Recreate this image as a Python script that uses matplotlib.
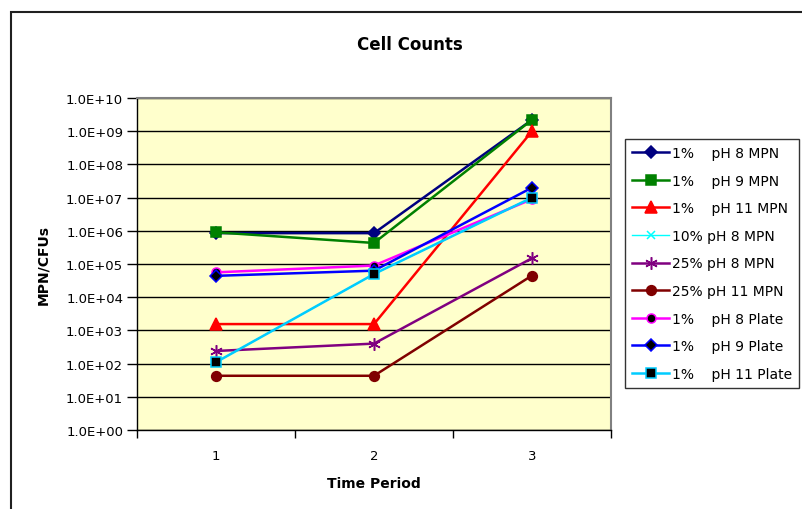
import math
import matplotlib
matplotlib.use('Agg')
import matplotlib.pyplot as plt
from matplotlib.patches import Rectangle
from matplotlib.ticker import FixedLocator, FuncFormatter

periods = [1, 2, 3]

labels = ['1%    pH 8 MPN', '1%    pH 9 MPN', '1%    pH 11 MPN', '10% pH 8 MPN',
          '25% pH 8 MPN', '25% pH 11 MPN', '1%    pH 8 Plate', '1%    pH 9 Plate',
          '1%    pH 11 Plate']

ph8_mpn = [8.5e5, 8.5e5, 2.2e9]
ph9_mpn = [9.0e5, 4.3e5, 2.2e9]
ph11_mpn = [1.55e3, 1.55e3, 1.0e9]
ph8_10_mpn = [1.1e2, 5.0e4, 1.0e7]
ph8_25_mpn = [2.4e2, 4.0e2, 1.5e5]
ph11_25_mpn = [43, 43, 4.5e4]
ph8_plate = [5.6e4, 9.0e4, 9.0e6]
ph9_plate = [4.4e4, 6.3e4, 2.0e7]
ph11_plate = [1.1e2, 5.0e4, 1.0e7]

series = [ph8_mpn, ph9_mpn, ph11_mpn, ph8_10_mpn, ph8_25_mpn, ph11_25_mpn,
          ph8_plate, ph9_plate, ph11_plate]

# line colour, marker, marker face, marker edge, marker size
styles = [
    ('#000080', 'D', '#000080', '#000080', 6),
    ('#008000', 's', '#008000', '#008000', 7),
    ('#FF0000', '^', '#FF0000', '#FF0000', 8),
    ('#00FFFF', 'x', '#00FFFF', '#00FFFF', 5.5),
    ('#800080', (6, 2, 0), '#800080', '#800080', 9),
    ('#800000', 'o', '#800000', '#800000', 7),
    ('#FF00FF', 'o', 'black', '#FF00FF', 6.5),
    ('#0000FF', 'D', 'black', '#0000FF', 6),
    ('#00CCFF', 's', 'black', '#00CCFF', 6.5),
]

fig = plt.figure(figsize=(8.03, 5.10), dpi=100)
ax = fig.add_axes([137/803, 1 - 431/510, 474/803, 332/510])
ax.set_facecolor('#FFFFCC')

handles = []
for vals, lab, (c, m, fc, ec, ms) in zip(series, labels, styles):
    lw = 1.0 if m == 'x' else 1.8
    h, = ax.plot(periods, vals, color=c, lw=lw, marker=m, markersize=ms,
                 markerfacecolor=fc, markeredgecolor=ec, markeredgewidth=1.1,
                 label=lab, clip_on=False)
    handles.append(h)

ax.set_yscale('log')
ax.set_ylim(1, 1e10)
ax.set_xlim(0.5, 3.5)
ax.yaxis.set_major_locator(FixedLocator([10.0**k for k in range(11)]))
ax.yaxis.set_minor_locator(FixedLocator([]))
ax.yaxis.set_major_formatter(FuncFormatter(lambda v, p: '1.0E+%02d' % round(math.log10(v))))
ax.grid(axis='y', color='black', lw=1.0)
ax.set_axisbelow(True)

ax.set_xticks(periods)
ax.set_xticks([0.5, 1.5, 2.5, 3.5], minor=True)
ax.tick_params(axis='x', which='major', length=0, pad=14, labelsize=9.5)
ax.tick_params(axis='x', which='minor', length=6, width=1, direction='out')
ax.tick_params(axis='y', which='major', length=7, width=1, direction='out', labelsize=9.5, pad=3)

for s in ['left', 'bottom']:
    ax.spines[s].set_color('black')
    ax.spines[s].set_linewidth(1.0)
for s in ['top', 'right']:
    ax.spines[s].set_color('#808080')
    ax.spines[s].set_linewidth(1.5)

ax.set_xlabel('Time Period', fontsize=10, fontweight='bold', labelpad=10)
ax.set_ylabel('MPN/CFUs', fontsize=10, fontweight='bold', labelpad=11)
fig.text(0.511, 0.912, 'Cell Counts', ha='center', va='center', fontsize=12, fontweight='bold')

leg = fig.legend(handles=handles, loc='upper left', bbox_to_anchor=(625/803, 1 - 140/510),
                 fontsize=10, frameon=True, fancybox=False, edgecolor='black',
                 handlelength=2.7, handletextpad=0.2, labelspacing=0.98,
                 borderpad=0.5, borderaxespad=0)
leg.get_frame().set_linewidth(1.0)

fig.patches.append(Rectangle((11/803, -0.1), 1.2, 1.1 - 13/510, transform=fig.transFigure,
                             fill=False, edgecolor='#202020', lw=1.5))

fig.savefig('out.png', dpi=100)
